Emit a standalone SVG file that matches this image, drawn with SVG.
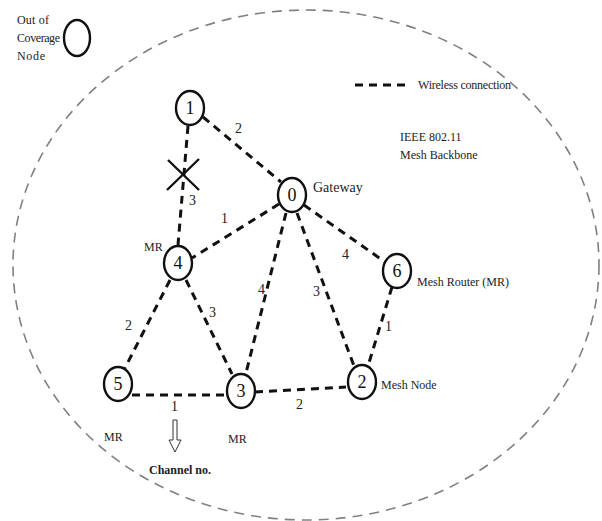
<svg xmlns="http://www.w3.org/2000/svg" width="602" height="521" viewBox="0 0 602 521">
  <style>
    .txt { font-family: "Liberation Serif", "Times New Roman", serif; fill: #222; }
    .lbl { font-size: 12px; }
    .ch { font-size: 14px; }
    .node ellipse { fill: #fff; stroke: #111; stroke-width: 2.4; }
    .node text { font-family: "Liberation Serif", serif; font-size: 18px; fill: #111; text-anchor: middle; }
    .link { stroke: #111; stroke-width: 3; stroke-dasharray: 8 6; fill: none; }
  </style>

  <rect width="602" height="521" fill="#fff"/>

  <!-- coverage area of the mesh backbone -->
  <ellipse cx="306" cy="265" rx="293" ry="255" fill="none" stroke="#808080" stroke-width="1.6" stroke-dasharray="10 7"/>

  <!-- legend -->
  <g id="legend">
    <text class="txt lbl" x="17" y="24" textLength="32">Out of</text>
    <text class="txt lbl" x="17" y="42" textLength="43">Coverage</text>
    <text class="txt lbl" x="17" y="60" textLength="28">Node</text>
    <ellipse cx="77" cy="38" rx="13" ry="18" fill="none" stroke="#111" stroke-width="2.4"/>
    <line x1="355" y1="85" x2="411" y2="85" class="link" stroke-dasharray="7 5"/>
    <text class="txt lbl" x="418" y="89" textLength="93">Wireless connection</text>
    <text class="txt lbl" x="400" y="141">IEEE 802.11</text>
    <text class="txt lbl" x="400" y="159">Mesh Backbone</text>
  </g>

  <!-- wireless links -->
  <g id="connectors">
    <line class="link" x1="203" y1="117" x2="281" y2="182"/>
    <line class="link" x1="188" y1="126" x2="178" y2="245"/>
    <line class="link" x1="279" y1="204" x2="192" y2="258"/>
    <line class="link" x1="304" y1="205" x2="385" y2="262"/>
    <line class="link" x1="286" y1="213" x2="246" y2="373"/>
    <line class="link" x1="297" y1="213" x2="354" y2="366"/>
    <line class="link" x1="392" y1="287" x2="368" y2="366"/>
    <line class="link" x1="170" y1="280" x2="125" y2="368"/>
    <line class="link" x1="186" y1="280" x2="232" y2="374"/>
    <line class="link" x1="132" y1="395" x2="227" y2="395"/>
    <line class="link" x1="255" y1="392" x2="346" y2="387"/>
    <!-- broken link marker -->
    <path d="M168,160 L199,190 M199,159 L167,190" stroke="#111" stroke-width="2.4" fill="none"/>
  </g>

  <!-- channel numbers -->
  <g id="channels" class="txt ch">
    <text x="235" y="133">2</text>
    <text x="189" y="205">3</text>
    <text x="221" y="223">1</text>
    <text x="342" y="259">4</text>
    <text x="258" y="294">4</text>
    <text x="313" y="296">3</text>
    <text x="385" y="331">1</text>
    <text x="125" y="330">2</text>
    <text x="209" y="317">3</text>
    <text x="171" y="411">1</text>
    <text x="296" y="409">2</text>
  </g>

  <g id="n0" class="node"><ellipse cx="292" cy="195" rx="14" ry="17"/><text x="292" y="201">0</text></g>
  <g id="n1" class="node"><ellipse cx="190" cy="108" rx="14" ry="17"/><text x="190" y="114">1</text></g>
  <g id="n2" class="node"><ellipse cx="362" cy="382" rx="14" ry="17"/><text x="362" y="388">2</text></g>
  <g id="n3" class="node"><ellipse cx="241" cy="391" rx="14" ry="17"/><text x="241" y="397">3</text></g>
  <g id="n4" class="node"><ellipse cx="178" cy="263" rx="14" ry="17"/><text x="178" y="269">4</text></g>
  <g id="n5" class="node"><ellipse cx="118" cy="384" rx="14" ry="17"/><text x="118" y="390">5</text></g>
  <g id="n6" class="node"><ellipse cx="397" cy="271" rx="14" ry="17"/><text x="397" y="277">6</text></g>

  <!-- node annotations -->
  <g id="annotations" class="txt lbl">
    <text x="313" y="192" style="font-size:14px">Gateway</text>
    <text x="417" y="286">Mesh Router (MR)</text>
    <text x="381" y="389">Mesh Node</text>
    <text x="144" y="251">MR</text>
    <text x="104" y="441">MR</text>
    <text x="228" y="443">MR</text>
    <text x="149" y="474" font-weight="bold">Channel no.</text>
  </g>

  <!-- pointer from channel number to its caption -->
  <g id="pointer">
    <path d="M173,420 L177,420 L177,440 L181,440 L175,452 L169,440 L173,440 Z" fill="#fff" stroke="#333" stroke-width="1"/>
  </g>
</svg>
